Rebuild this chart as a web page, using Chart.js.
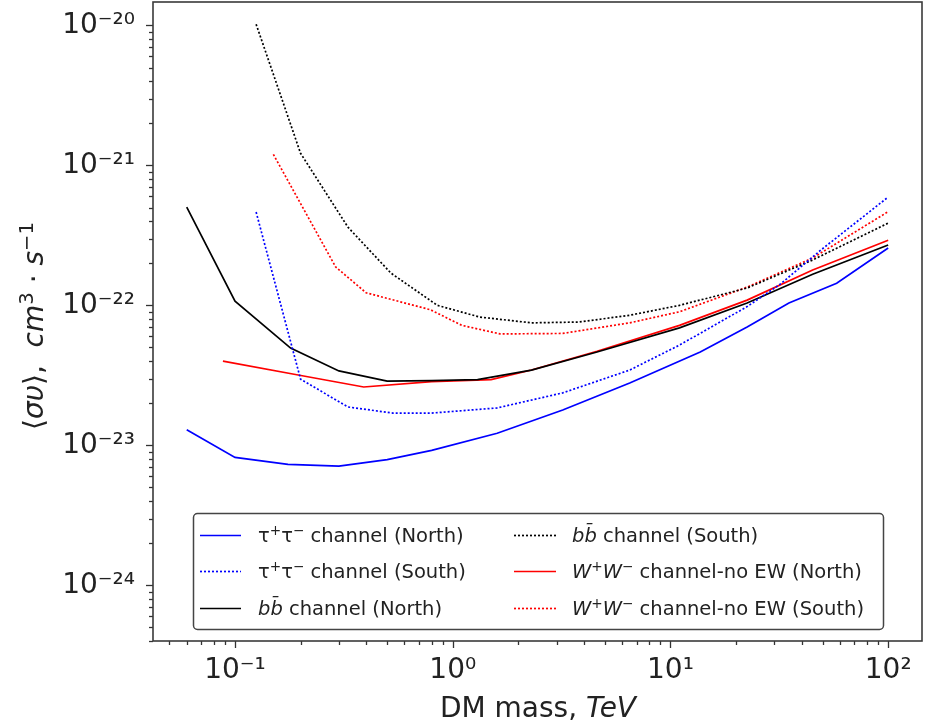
<!DOCTYPE html>
<html><head><meta charset="utf-8">
<script src="https://cdn.jsdelivr.net/npm/chart.js@4/dist/chart.umd.min.js"></script>
<style>html,body{margin:0;padding:0;background:#fff;overflow:hidden}canvas{display:block}</style>
</head><body>
<canvas id="c" width="926" height="722" style="width:926px;height:722px"></canvas>
<script>
// ---- data (DM mass in TeV, <sigma v> in cm^3 s^-1) ----
const tauNorthMass  = [0.06, 0.1, 0.175, 0.3, 0.5, 0.8, 1.6, 3.2, 6.5, 13.7, 22.5, 35, 58, 100];
const tauNorthSigma = [1.29e-23, 8.2e-24, 7.3e-24, 7.1e-24, 7.9e-24, 9.2e-24, 1.22e-23, 1.79e-23, 2.79e-23, 4.64e-23, 7.0e-23, 1.04e-22, 1.44e-22, 2.57e-22];

const tauSouthMass  = [0.125, 0.2, 0.33, 0.53, 0.8, 1.6, 3.2, 6.5, 11, 22.5, 32, 49, 100];
const tauSouthSigma = [4.64e-22, 2.97e-23, 1.88e-23, 1.70e-23, 1.70e-23, 1.85e-23, 2.37e-23, 3.45e-23, 5.2e-23, 9.8e-23, 1.42e-22, 2.48e-22, 5.94e-22];

const bbNorthMass  = [0.06, 0.1, 0.18, 0.3, 0.5, 0.8, 1.3, 2.3, 4.6, 11, 22.5, 45, 100];
const bbNorthSigma = [5.04e-22, 1.07e-22, 4.95e-23, 3.4e-23, 2.88e-23, 2.9e-23, 2.95e-23, 3.45e-23, 4.64e-23, 6.9e-23, 1.04e-22, 1.67e-22, 2.70e-22];

const bbSouthMass  = [0.125, 0.2, 0.33, 0.52, 0.85, 1.33, 2.3, 3.8, 6.5, 11, 22.5, 45, 100];
const bbSouthSigma = [1.02e-20, 1.22e-21, 3.62e-22, 1.70e-22, 1.0e-22, 8.25e-23, 7.5e-23, 7.6e-23, 8.5e-23, 1.0e-22, 1.33e-22, 2.11e-22, 3.87e-22];

const wwNorthMass  = [0.088, 0.195, 0.39, 0.8, 1.5, 2.3, 4.6, 11, 22.5, 45, 100];
const wwNorthSigma = [4.0e-23, 3.18e-23, 2.61e-23, 2.85e-23, 2.95e-23, 3.45e-23, 4.7e-23, 7.2e-23, 1.09e-22, 1.79e-22, 2.92e-22];

const wwSouthMass  = [0.15, 0.29, 0.40, 0.79, 1.1, 1.65, 3.2, 6.5, 11, 22.5, 45, 100];
const wwSouthSigma = [1.2e-21, 1.88e-22, 1.23e-22, 9.3e-23, 7.2e-23, 6.25e-23, 6.3e-23, 7.5e-23, 9.0e-23, 1.35e-22, 2.18e-22, 4.67e-22];

// legend labels (markup: _italic_, ^{superscript})
const seriesLabels = [
  'τ^{+}τ^{−} channel (North)',
  'τ^{+}τ^{−} channel (South)',
  '_bb̄_ channel (North)',
  '_bb̄_ channel (South)',
  '_W_^{+}_W_^{−} channel-no EW (North)',
  '_W_^{+}_W_^{−} channel-no EW (South)'
];
const xTitle = 'DM mass, _TeV_';
const yTitle = '⟨_συ_⟩,  _cm_^{3} · _s_^{−1}';

const xMin = 0.042, xMax = 143;
const yMin = 4.0e-25, yMax = 1.47e-20;

// ---- helpers ----
const FONT = '"DejaVu Sans", "Liberation Sans", sans-serif';
function parseRich(s) {
  const out = [];
  const re = /(_[^_]+_)|(\^\{[^}]*\})/g;
  let last = 0, m;
  while ((m = re.exec(s))) {
    if (m.index > last) out.push({t: s.slice(last, m.index)});
    if (m[1]) out.push({t: m[1].slice(1, -1), it: true});
    else out.push({t: m[2].slice(2, -1), sup: true});
    last = re.lastIndex;
  }
  if (last < s.length) out.push({t: s.slice(last)});
  return out;
}
function plain(s) { return parseRich(s).map(p => p.t).join(''); }
function drawRich(ctx, s, x, y, size, align) {
  const segs = parseRich(s);
  const fonts = segs.map(p => (p.it ? 'italic ' : '') + (p.sup ? size * 0.7 : size) + 'px ' + FONT);
  const widths = segs.map((p, i) => { ctx.font = fonts[i]; return ctx.measureText(p.t).width; });
  const total = widths.reduce((a, b) => a + b, 0);
  let cx = align === 'center' ? x - total / 2 : x;
  ctx.textAlign = 'left'; ctx.textBaseline = 'alphabetic';
  segs.forEach((p, i) => {
    ctx.font = fonts[i];
    ctx.fillText(p.t, cx, y - (p.sup ? size * 0.36 : 0));
    cx += widths[i];
  });
}
const supMap = {'-': '⁻', '0': '⁰', '1': '¹', '2': '²', '3': '³', '4': '⁴', '5': '⁵', '6': '⁶', '7': '⁷', '8': '⁸', '9': '⁹'};
function powLabel(v) {
  const l = Math.log10(v);
  if (Math.abs(l - Math.round(l)) > 1e-6) return '';
  return '10' + String(Math.round(l)).split('').map(c => supMap[c]).join('');
}
function logTicks(min, max) {
  const t = [];
  for (let e = Math.floor(Math.log10(min)); e <= Math.ceil(Math.log10(max)); e++) {
    for (let k = 1; k <= 9; k++) {
      const v = k * Math.pow(10, e);
      if (v >= min * 0.9999 && v <= max * 1.0001) t.push({value: v, major: k === 1});
    }
  }
  return t;
}
const pts = (xs, ys) => xs.map((x, i) => ({x: x, y: ys[i]}));

const seriesData = [
  pts(tauNorthMass, tauNorthSigma), pts(tauSouthMass, tauSouthSigma),
  pts(bbNorthMass, bbNorthSigma), pts(bbSouthMass, bbSouthSigma),
  pts(wwNorthMass, wwNorthSigma), pts(wwSouthMass, wwSouthSigma)
];
const seriesColors = ['#0000ff', '#0000ff', '#000000', '#000000', '#ff0000', '#ff0000'];
const seriesDotted = [false, true, false, true, false, true];

const datasets = seriesData.map((d, i) => ({
  label: plain(seriesLabels[i]),
  data: d,
  borderColor: seriesColors[i],
  backgroundColor: seriesColors[i],
  borderWidth: 1.7,
  borderDash: seriesDotted[i] ? [2, 2] : [],
  pointRadius: 0,
  tension: 0,
  fill: false
}));

const decor = {
  id: 'decor',
  afterDatasetsDraw(chart) {
    const ctx = chart.ctx, a = chart.chartArea;
    const xs = chart.scales.x, ys = chart.scales.y;
    ctx.save();
    ctx.strokeStyle = '#333'; ctx.lineWidth = 1.3;
    ys.ticks.forEach(t => {
      const py = Math.round(ys.getPixelForValue(t.value)) + 0.5;
      const len = t.major ? 7 : 4;
      ctx.beginPath(); ctx.moveTo(a.left - len, py); ctx.lineTo(a.left, py); ctx.stroke();
    });
    xs.ticks.forEach(t => {
      const px = Math.round(xs.getPixelForValue(t.value)) + 0.5;
      const len = t.major ? 7 : 4;
      ctx.beginPath(); ctx.moveTo(px, a.bottom); ctx.lineTo(px, a.bottom + len); ctx.stroke();
    });
    ctx.lineWidth = 1.6; ctx.strokeStyle = '#3a3a3a';
    ctx.strokeRect(a.left, a.top, a.right - a.left, a.bottom - a.top);
    ctx.restore();
  },
  afterDraw(chart) {
    const ctx = chart.ctx;
    ctx.save();
    ctx.fillStyle = '#222';
    // axis titles
    drawRich(ctx, xTitle, 538, 717, 28, 'center');
    ctx.translate(43, 326); ctx.rotate(-Math.PI / 2);
    drawRich(ctx, yTitle, 0, 0, 28, 'center');
    ctx.restore();
    // legend
    ctx.save();
    ctx.beginPath();
    ctx.roundRect(193.5, 513.5, 690, 116, 4);
    ctx.fillStyle = 'rgba(255,255,255,0.9)'; ctx.fill();
    ctx.lineWidth = 1.5; ctx.strokeStyle = '#444'; ctx.stroke();
    const rows = [535, 571, 608];
    const cols = [{l1: 200, l2: 241, tx: 258}, {l1: 514, l2: 556, tx: 572}];
    chart.data.datasets.forEach((ds, i) => {
      const c = cols[Math.floor(i / 3)], y = rows[i % 3];
      ctx.beginPath();
      ctx.setLineDash(ds.borderDash || []);
      ctx.strokeStyle = ds.borderColor; ctx.lineWidth = 1.7;
      ctx.moveTo(c.l1, y + 0.5); ctx.lineTo(c.l2, y + 0.5); ctx.stroke();
      ctx.setLineDash([]);
      ctx.fillStyle = '#222';
      drawRich(ctx, seriesLabels[i], c.tx, y + 7, 19.5, 'left');
    });
    ctx.restore();
  }
};

new Chart(document.getElementById('c'), {
  type: 'line',
  data: {datasets: datasets},
  options: {
    responsive: false, animation: false, devicePixelRatio: 1, events: [],
    layout: {padding: {top: 2, right: 4, left: 0, bottom: 0}},
    plugins: {legend: {display: false}, title: {display: false}, tooltip: {enabled: false}},
    scales: {
      x: {
        type: 'logarithmic', position: 'bottom', min: xMin, max: xMax,
        grid: {display: false, drawTicks: false}, border: {display: false},
        afterBuildTicks: s => { s.ticks = logTicks(xMin, xMax); },
        afterFit: s => { s.height = 81; s.paddingLeft = 0; s.paddingRight = 0; },
        ticks: {autoSkip: false, maxRotation: 0, minRotation: 0, padding: 13, color: '#222',
          font: {family: FONT, size: 28}, callback: v => powLabel(v)}
      },
      y: {
        type: 'logarithmic', position: 'left', min: yMin, max: yMax,
        grid: {display: false, drawTicks: false}, border: {display: false},
        afterBuildTicks: s => { s.ticks = logTicks(yMin, yMax); },
        afterFit: s => { s.width = 153; s.paddingTop = 0; s.paddingBottom = 0; },
        ticks: {autoSkip: false, padding: 18, color: '#222',
          font: {family: FONT, size: 28}, callback: v => powLabel(v)}
      }
    }
  },
  plugins: [decor]
});
</script>
</body></html>
